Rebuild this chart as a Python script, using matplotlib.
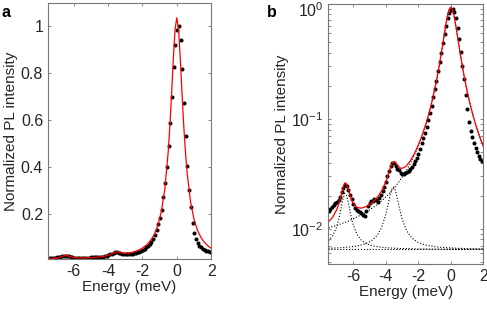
import matplotlib
matplotlib.use("Agg")
import matplotlib.pyplot as plt
import numpy as np

plt.rcParams["font.family"] = ["Liberation Sans", "DejaVu Sans"]
plt.rcParams["mathtext.fontset"] = "custom"
plt.rcParams["mathtext.rm"] = "Liberation Sans"
plt.rcParams["axes.unicode_minus"] = False

# measured PL spectrum (energy in meV, normalized intensity)
energy = [-7.48, -7.38, -7.28, -7.18, -7.08, -6.98, -6.88, -6.78, -6.68, -6.58,
          -6.48, -6.38, -6.28, -6.18, -6.08, -5.98, -5.88, -5.78, -5.68, -5.58,
          -5.48, -5.38, -5.28, -5.18, -5.08, -4.98, -4.88, -4.78, -4.68, -4.58,
          -4.48, -4.38, -4.28, -4.18, -4.08, -3.98, -3.88, -3.78, -3.68, -3.58,
          -3.48, -3.38, -3.28, -3.18, -3.08, -2.98, -2.88, -2.78, -2.68, -2.58,
          -2.48, -2.38, -2.28, -2.18, -2.08, -1.98, -1.88, -1.78, -1.68, -1.58,
          -1.48, -1.38, -1.28, -1.18, -1.08, -0.98, -0.88, -0.78, -0.68, -0.58,
          -0.48, -0.38, -0.28, -0.18, -0.08, 0.02, 0.12, 0.22, 0.32, 0.42,
          0.52, 0.62, 0.72, 0.82, 0.92, 1.02, 1.12, 1.22, 1.32, 1.42,
          1.52, 1.62, 1.72, 1.82, 1.92]
intensity = [0.0145, 0.0150, 0.0158, 0.0165, 0.0170, 0.0175, 0.0183, 0.0195, 0.0215, 0.0235,
             0.0250, 0.0245, 0.0225, 0.0205, 0.0185, 0.0168, 0.0155, 0.0148, 0.0145, 0.0143,
             0.0140, 0.0133, 0.0130, 0.0145, 0.0160, 0.0172, 0.0180, 0.0178, 0.0185, 0.0182,
             0.0176, 0.0190, 0.0205, 0.0220, 0.0240, 0.0265, 0.0300, 0.0335, 0.0375, 0.0400,
             0.0395, 0.0370, 0.0350, 0.0340, 0.0325, 0.0318, 0.0312, 0.0320, 0.0330, 0.0338,
             0.0348, 0.0365, 0.0385, 0.0410, 0.0440, 0.0480, 0.0535, 0.0600, 0.0670, 0.0750,
             0.0850, 0.0970, 0.1120, 0.1320, 0.1580, 0.187, 0.221, 0.274, 0.332, 0.400,
             0.490, 0.590, 0.700, 0.825, 0.920, 0.985, 1.000, 0.940, 0.820, 0.676,
             0.533, 0.405, 0.303, 0.230, 0.165, 0.122, 0.094, 0.078, 0.068, 0.060,
             0.054, 0.050, 0.046, 0.043, 0.041]

# fit curve and its components, read at these energies
fit_energy = [-7.5, -7.25, -7.0, -6.9, -6.8, -6.7, -6.6, -6.5, -6.4, -6.3,
              -6.2, -6.1, -6.0, -5.75, -5.5, -5.25, -5.0, -4.75, -4.5, -4.25,
              -4.0, -3.9, -3.8, -3.7, -3.6, -3.5, -3.4, -3.3, -3.2, -3.1,
              -3.0, -2.75, -2.5, -2.25, -2.0, -1.75, -1.5, -1.3, -1.1, -0.9,
              -0.7, -0.5, -0.4, -0.3, -0.2, -0.1, 0.0, 0.1, 0.2, 0.3,
              0.4, 0.5, 0.6, 0.8, 1.0, 1.2, 1.4, 1.6, 1.8, 2.0]
fit_total = [0.0116, 0.0127, 0.0149, 0.0163, 0.0183, 0.0210, 0.0241, 0.0262, 0.0258, 0.0234,
             0.0208, 0.0187, 0.0173, 0.0157, 0.0154, 0.0158, 0.0165, 0.0177, 0.0194, 0.0220,
             0.0263, 0.0290, 0.0323, 0.0360, 0.0393, 0.0409, 0.0403, 0.0386, 0.0369, 0.0358,
             0.0354, 0.0369, 0.0411, 0.0476, 0.0572, 0.0712, 0.0922, 0.1172, 0.1546, 0.2128,
             0.3080, 0.4677, 0.5820, 0.7197, 0.8667, 0.9881, 1.0365, 0.9880, 0.8666, 0.7196,
             0.5819, 0.4675, 0.3773, 0.2541, 0.1800, 0.1335, 0.1030, 0.0820, 0.0671, 0.0561]
fit_main = [0.0102, 0.0105, 0.0107, 0.0109, 0.0110, 0.0111, 0.0113, 0.0114, 0.0116, 0.0117,
            0.0119, 0.0121, 0.0123, 0.0128, 0.0134, 0.0140, 0.0148, 0.0157, 0.0167, 0.0179,
            0.0194, 0.0200, 0.0208, 0.0215, 0.0224, 0.0233, 0.0242, 0.0253, 0.0265, 0.0278,
            0.0292, 0.0334, 0.0388, 0.0461, 0.0561, 0.0704, 0.0916, 0.1167, 0.1542, 0.2125,
            0.3077, 0.4675, 0.5819, 0.7196, 0.8666, 0.9880, 1.0365, 0.9880, 0.8666, 0.7196,
            0.5819, 0.4675, 0.3773, 0.2541, 0.1800, 0.1335, 0.1030, 0.0820, 0.0671, 0.0561]
fit_peak1 = [0.00666, 0.00668, 0.00671, 0.00672, 0.00673, 0.00675, 0.00676, 0.00678, 0.00680, 0.00682,
             0.00685, 0.00687, 0.00690, 0.00699, 0.00712, 0.00731, 0.00758, 0.00802, 0.00879, 0.01023,
             0.01324, 0.01525, 0.01784, 0.02079, 0.02326, 0.02395, 0.02241, 0.01961, 0.01674, 0.01438,
             0.01259, 0.00993, 0.00863, 0.00794, 0.00753, 0.00727, 0.00710, 0.00701, 0.00693, 0.00686,
             0.00681, 0.00677, 0.00676, 0.00675, 0.00673, 0.00672, 0.00670, 0.00669, 0.00668, 0.00667,
             0.00666, 0.00665, 0.00664, 0.00663, 0.00662, 0.00661, 0.00660, 0.00659, 0.00659, 0.00658]
fit_peak2 = [0.00779, 0.00860, 0.01040, 0.01170, 0.01358, 0.01613, 0.01903, 0.02097, 0.02043, 0.01789,
             0.01503, 0.01275, 0.01112, 0.00891, 0.00793, 0.00744, 0.00716, 0.00699, 0.00688, 0.00680,
             0.00674, 0.00672, 0.00671, 0.00670, 0.00668, 0.00667, 0.00666, 0.00665, 0.00664, 0.00663,
             0.00662, 0.00661, 0.00659, 0.00658, 0.00657, 0.00656, 0.00656, 0.00655, 0.00655, 0.00654,
             0.00654, 0.00654, 0.00653, 0.00653, 0.00653, 0.00653, 0.00653, 0.00652, 0.00652, 0.00652,
             0.00652, 0.00652, 0.00652, 0.00651, 0.00651, 0.00651, 0.00651, 0.00651, 0.00651, 0.00651]
background = 0.0065

fig = plt.figure(figsize=(4.87, 3.09), dpi=100)
ax_a = fig.add_axes([0.0986, 0.162, 0.335, 0.829])
ax_b = fig.add_axes([0.6745, 0.146, 0.318, 0.840])

edge = "#777777"
txt = "#262626"
for ax in (ax_a, ax_b):
    for s in ax.spines.values():
        s.set_color(edge)
        s.set_linewidth(0.8)
    ax.tick_params(direction="in", which="both", top=True, right=True,
                   color=edge, labelcolor=txt, labelsize=11.5, length=2.5, width=0.6)
    ax.set_xlim(-7.5, 2)
    ax.set_xticks([-6, -4, -2, 0, 2])
    ax.set_xlabel("Energy (meV)", fontsize=11, color=txt, labelpad=1)
    ax.set_ylabel("Normalized PL intensity", fontsize=11, color=txt, labelpad=2)

# panel a: linear scale
ax_a.plot(energy, intensity, "o", color="black", ms=2.9, mew=0)
ax_a.plot(fit_energy, fit_total, "-", color="red", lw=0.9)
ax_a.set_ylim(0.011, 1.1)
ax_a.set_yticks([0.2, 0.4, 0.6, 0.8, 1])
ax_a.set_yticklabels(["0.2", "0.4", "0.6", "0.8", "1"])

# panel b: log scale with fit components
ax_b.plot(fit_energy, fit_main, ":", color="black", lw=0.8)
ax_b.plot(fit_energy, fit_peak1, ":", color="black", lw=0.8)
ax_b.plot(fit_energy, fit_peak2, ":", color="black", lw=0.8)
ax_b.plot([-7.5, 2], [background, background], ":", color="black", lw=0.8)
ax_b.plot(energy, intensity, "o", color="black", ms=2.9, mew=0)
ax_b.plot(fit_energy, fit_total, "-", color="red", lw=0.9)
ax_b.set_yscale("log")
ax_b.set_ylim(0.0048, 1.1)
ax_b.set_yticks([0.01, 0.1, 1])

fig.text(0.004, 0.985, "a", fontsize=11.5, fontweight="bold", va="top")
fig.text(0.548, 0.985, "b", fontsize=11.5, fontweight="bold", va="top")

fig.savefig("out.png", dpi=100)
